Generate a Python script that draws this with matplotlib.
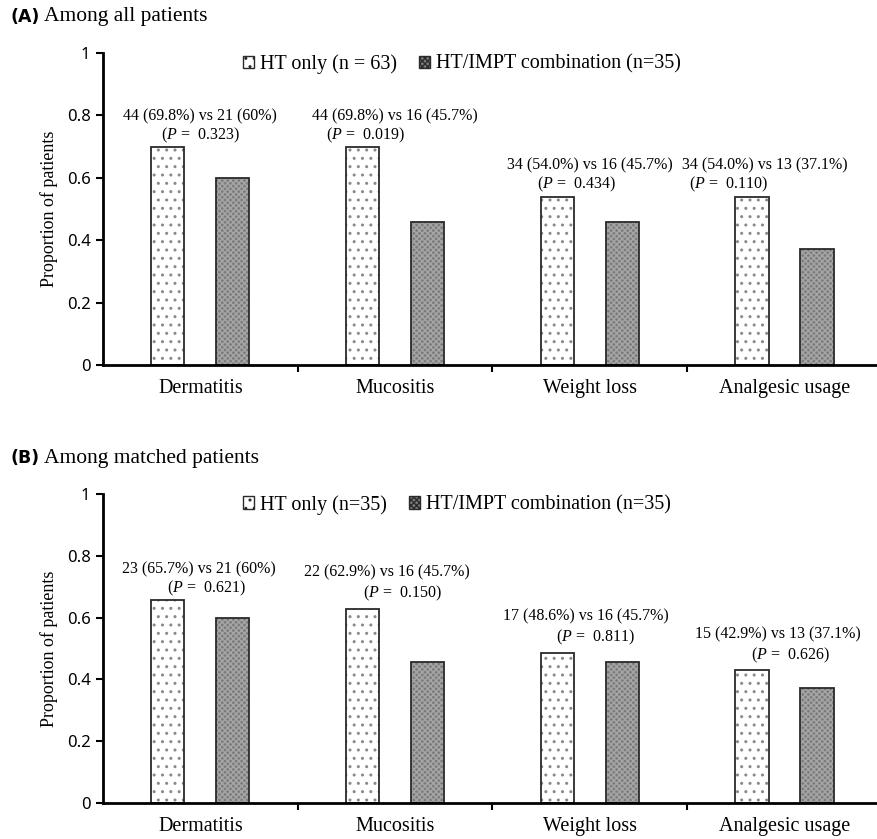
import numpy as np
import matplotlib
matplotlib.use("Agg")
import matplotlib.pyplot as plt
from matplotlib.patches import Patch

SERIF = "Liberation Serif"
SANS = "Noto Sans"

categories = ["Dermatitis", "Mucositis", "Weight loss", "Analgesic usage"]

# panel A: among all patients
ht_all = [0.698, 0.698, 0.540, 0.540]
combo_all = [0.600, 0.457, 0.457, 0.371]
counts_all = ["44 (69.8%) vs 21 (60%)", "44 (69.8%) vs 16 (45.7%)",
              "34 (54.0%) vs 16 (45.7%)", "34 (54.0%) vs 13 (37.1%)"]
pvals_all = ["0.323", "0.019", "0.434", "0.110"]
legend_all = ["HT only (n = 63)", "HT/IMPT combination (n=35)"]

# panel B: among matched patients
ht_matched = [0.657, 0.629, 0.486, 0.429]
combo_matched = [0.600, 0.457, 0.457, 0.371]
counts_matched = ["23 (65.7%) vs 21 (60%)", "22 (62.9%) vs 16 (45.7%)",
                  "17 (48.6%) vs 16 (45.7%)", "15 (42.9%) vs 13 (37.1%)"]
pvals_matched = ["0.621", "0.150", "0.811", "0.626"]
legend_matched = ["HT only (n=35)", "HT/IMPT combination (n=35)"]

plt.rcParams["hatch.linewidth"] = 1.0
plt.rcParams["mathtext.fontset"] = "custom"
plt.rcParams["mathtext.it"] = "Liberation Serif:italic"
plt.rcParams["mathtext.rm"] = "Liberation Serif"

fig = plt.figure(figsize=(8.77, 8.39), dpi=100)
W, H = 877.0, 839.0
PT = 72.0 / 100  # points per pixel

HT_FACE, HT_DOTS = "white", "#8a8a8a"
CB_FACE, CB_HATCH = "#7c7c7c", "#a6a6a6"
EDGE = "#2a2a2a"


def make_axes(top_px, bottom_px):
    left = 103 / W
    return fig.add_axes([left, 1 - bottom_px / H, 1 - left, (bottom_px - top_px) / H])


def draw_panel(ax, ht, combo, counts, pvals, labels, dx1, dx2, dy1, dy2):
    x = np.arange(len(categories))
    off, width = 0.167, 0.17
    # fills with hatch, then plain outlines on top
    ax.bar(x - off, ht, width, facecolor=HT_FACE, edgecolor=HT_DOTS, hatch="..", linewidth=0)
    ax.bar(x + off, combo, width, facecolor=CB_FACE, edgecolor=CB_HATCH, hatch="xxxxxx", linewidth=0)
    ax.bar(x - off, ht, width, fill=False, edgecolor=EDGE, linewidth=1.3)
    ax.bar(x + off, combo, width, fill=False, edgecolor=EDGE, linewidth=1.3)

    ax.set_xlim(-0.5, 3.475)
    ax.set_ylim(0, 1)
    ax.set_yticks([0, 0.2, 0.4, 0.6, 0.8, 1.0])
    ax.set_yticklabels(["0", "0.2", "0.4", "0.6", "0.8", "1"], family=SANS, fontsize=12)
    ax.set_xticks(x)
    ax.set_xticklabels(categories, family=SERIF, fontsize=14.5)
    ax.tick_params(axis="x", length=0, pad=10)
    ax.set_xticks([0.5, 1.5, 2.5], minor=True)
    ax.tick_params(axis="x", which="minor", length=5, width=1.5, direction="out")
    ax.tick_params(axis="y", length=5, width=1.5, direction="out", pad=4)
    for s in ["top", "right"]:
        ax.spines[s].set_visible(False)
    ax.spines["left"].set_linewidth(2)
    ax.spines["bottom"].set_linewidth(2)
    ax.set_ylabel("Proportion of patients", family=SERIF, fontsize=13)
    ax.yaxis.set_label_coords(-45 / 774, 0.5)

    for i in range(len(categories)):
        ax.annotate(counts[i], (x[i] + dx1[i], ht[i]), xytext=(0, dy1[i] * PT),
                    textcoords="offset points", ha="center", va="center",
                    family=SERIF, fontsize=11.5)
        ax.annotate(r"($\mathit{P}$ =  " + pvals[i] + ")", (x[i] + dx2[i], ht[i]),
                    xytext=(0, dy2[i] * PT), textcoords="offset points", ha="center",
                    va="center", family=SERIF, fontsize=11.5)

    handles = [Patch(facecolor=HT_FACE, edgecolor=EDGE, hatch="..", label=labels[0]),
               Patch(facecolor=CB_FACE, edgecolor=EDGE, hatch="xxxxxx", label=labels[1])]
    ax.legend(handles=handles, loc="center left", bbox_to_anchor=(140 / 774, 0.965),
              ncol=2, frameon=False, prop={"family": SERIF, "size": 14.5},
              handlelength=0.55, handleheight=0.55, handletextpad=0.3,
              columnspacing=1.1, borderaxespad=0, borderpad=0)


axA = make_axes(53, 365)
draw_panel(axA, ht_all, combo_all, counts_all, pvals_all, legend_all,
           [0.0, 0.0, 0.0, -0.10], [0.0, -0.15, -0.07, -0.29],
           [31, 31, 31, 31], [12, 12, 12, 12])
axB = make_axes(494, 803)
draw_panel(axB, ht_matched, combo_matched, counts_matched, pvals_matched, legend_matched,
           [-0.01, -0.04, -0.02, -0.035], [0.03, 0.035, 0.03, 0.03],
           [31, 36, 36, 36], [12, 15, 15, 15])

for ypx, tag, title in [(17, "(A)", "Among all patients"), (458, "(B)", "Among matched patients")]:
    fig.text(10 / W, 1 - ypx / H, tag, family="DejaVu Sans", fontweight="bold", fontsize=12.5, va="center")
    fig.text(44 / W, 1 - ypx / H, title, family=SERIF, fontsize=15.5, va="center")

fig.savefig("out.png", dpi=100)
